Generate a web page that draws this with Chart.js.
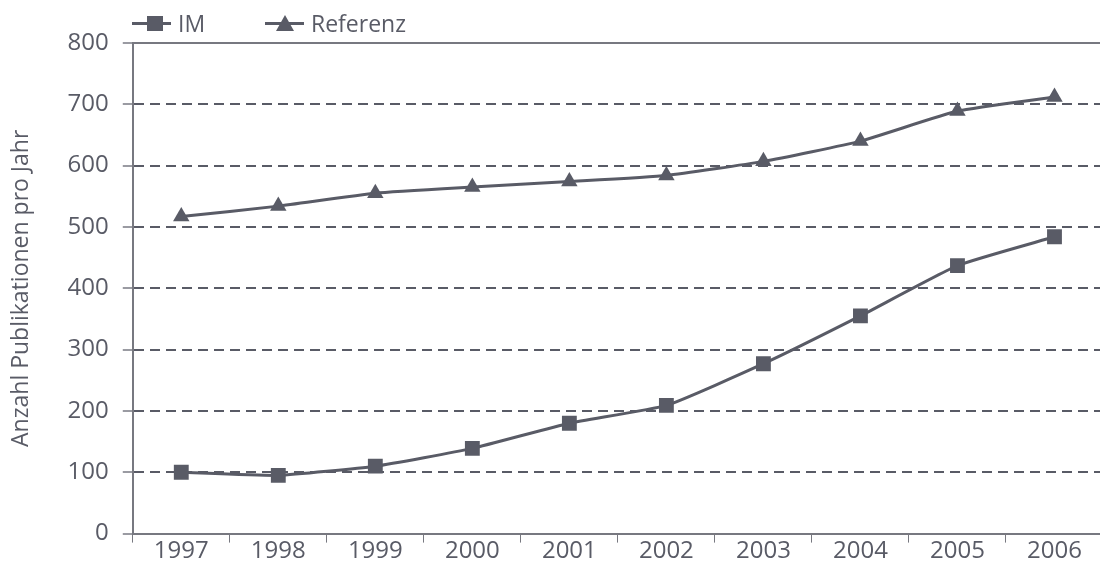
<!DOCTYPE html>
<html>
<head>
<meta charset="utf-8">
<script src="https://cdn.jsdelivr.net/npm/chart.js@4"></script>
<style>
  html, body { margin: 0; padding: 0; background: #fff; overflow: hidden; }
  #wrap { position: absolute; left: 0; top: 0; width: 1103px; height: 562px; }
  .legend { position: absolute; top: 9px; height: 28px; font-family: 'Open Sans', sans-serif; font-size: 23px; color: #595b66; line-height: 28px; }
  .legend .ln { position: absolute; top: 13px; height: 3px; width: 39px; background: #595b66; }
  .legend .sq { position: absolute; top: 7px; left: 15px; width: 16px; height: 15px; background: #595b66; }
  .legend .tri { position: absolute; top: 6px; left: 11px; width: 0; height: 0; border-left: 9px solid transparent; border-right: 9px solid transparent; border-bottom: 16px solid #595b66; }
  .legend .tx { position: absolute; top: 0; white-space: nowrap; }
</style>
</head>
<body>
<div id="wrap"><canvas id="chart"></canvas></div>
<div class="legend" style="left:132px"><span class="ln"></span><span class="sq"></span><span class="tx" style="left:46px">IM</span></div>
<div class="legend" style="left:265px"><span class="ln"></span><span class="tri"></span><span class="tx" style="left:46px">Referenz</span></div>
<script>
const years = ['1997', '1998', '1999', '2000', '2001', '2002', '2003', '2004', '2005', '2006'];
const imValues = [100, 95, 110, 139, 180, 209, 277, 355, 437, 484];
const referenzValues = [517, 534, 555, 565, 574, 584, 607, 640, 689, 712];
const yTicks = [0, 100, 200, 300, 400, 500, 600, 700, 800];

const LINE_COLOR = '#595b66';
const TEXT_COLOR = '#595b66';
const AXIS_COLOR = '#777880';
const FONT = "'Open Sans', sans-serif";

const ctx = document.getElementById('chart').getContext('2d');
new Chart(ctx, {
  type: 'line',
  data: {
    labels: years,
    datasets: [
      {
        label: 'IM', data: imValues,
        borderColor: LINE_COLOR, backgroundColor: LINE_COLOR,
        borderWidth: 3, pointStyle: 'rect', pointRadius: 10.5, pointBorderWidth: 0,
        tension: 0.15, fill: false
      },
      {
        label: 'Referenz', data: referenzValues,
        borderColor: LINE_COLOR, backgroundColor: LINE_COLOR,
        borderWidth: 3, pointStyle: 'triangle', pointRadius: 9.5, pointBorderWidth: 0,
        tension: 0.15, fill: false
      }
    ]
  },
  options: {
    responsive: true,
    maintainAspectRatio: false,
    animation: false,
    layout: { autoPadding: false, padding: { top: 43, left: 8, right: 0, bottom: 0 } },
    plugins: { legend: { display: false }, tooltip: { enabled: false } },
    scales: {
      x: {
        offset: true,
        grid: { offset: true, drawOnChartArea: false, tickLength: 9, color: AXIS_COLOR, tickColor: AXIS_COLOR },
        border: { color: AXIS_COLOR, width: 2 },
        ticks: { color: TEXT_COLOR, font: { family: FONT, size: 24, lineHeight: 1 }, padding: -3, maxRotation: 0 }
      },
      y: {
        min: 0, max: 800,
        afterBuildTicks: (scale) => { scale.ticks = yTicks.map(v => ({ value: v })); },
        grid: {
          color: (c) => (c.tick && (c.tick.value === 0 || c.tick.value === 800)) ? AXIS_COLOR : LINE_COLOR,
          lineWidth: 2, tickLength: 10, tickColor: '#9a9ba2', tickWidth: 2
        },
        border: {
          color: AXIS_COLOR, width: 2,
          dash: (c) => (c.tick && c.tick.value > 0 && c.tick.value < 800) ? [10, 6] : []
        },
        ticks: { color: TEXT_COLOR, font: { family: FONT, size: 24 }, padding: 14 },
        title: {
          display: true, text: 'Anzahl Publikationen pro Jahr',
          color: TEXT_COLOR, font: { family: FONT, size: 23 }, padding: { top: 0, bottom: 18 }
        }
      }
    }
  }
});
</script>
</body>
</html>
